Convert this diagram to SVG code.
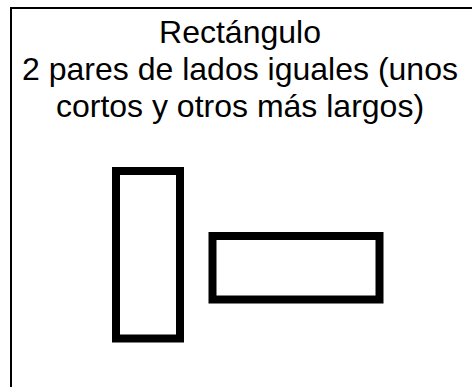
<svg xmlns="http://www.w3.org/2000/svg" width="472" height="387" viewBox="0 0 472 387">
<style>
.t{font-family:"Liberation Sans",Arial,sans-serif;font-size:32px;fill:#000;text-anchor:middle}
.shape{fill:#fff;stroke:#000;stroke-width:8}
</style>
<rect x="0" y="0" width="472" height="387" fill="#fff"/>
<g id="frame">
<rect x="11" y="8" width="480" height="400" fill="none" stroke="#000" stroke-width="2"/>
</g>
<g id="title">
<text class="t" x="240" y="43">Rectángulo</text>
<text class="t" x="240" y="80">2 pares de lados iguales (unos</text>
<text class="t" x="240" y="117">cortos y otros más largos)</text>
</g>
<g id="vertical-rect">
<rect class="shape" x="116" y="171" width="64" height="167.5"/>
</g>
<g id="horizontal-rect">
<rect class="shape" x="212.5" y="236" width="167" height="63.5"/>
</g>
</svg>
